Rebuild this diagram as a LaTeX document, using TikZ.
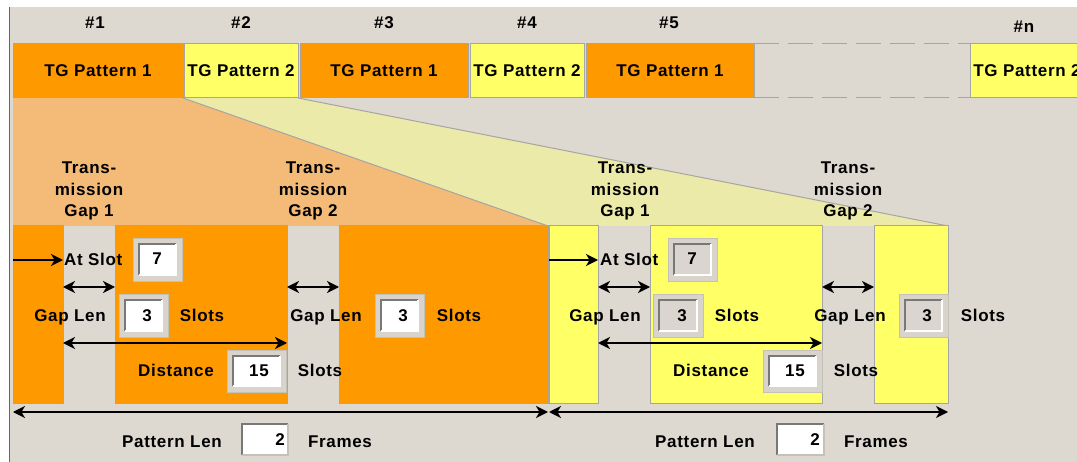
\documentclass[tikz,border=0pt]{standalone}
\usepackage{fontspec}
\setmainfont{Liberation Sans}[LetterSpace=4]
\usetikzlibrary{arrows.meta}
\definecolor{bgc}{RGB}{221,216,208}
\definecolor{org}{RGB}{255,153,0}
\definecolor{yel}{RGB}{255,255,102}
\definecolor{edgec}{RGB}{165,165,165}
\definecolor{ohatch}{RGB}{243,186,120}
\definecolor{yhatch}{RGB}{236,234,168}
\definecolor{framec}{RGB}{216,212,204}
\definecolor{framed}{RGB}{196,192,186}
\definecolor{disc}{RGB}{218,214,207}
\definecolor{sunk}{RGB}{120,120,120}
\newcommand\lbfont{\fontsize{17}{21.5}\selectfont\bfseries}
\pgfdeclarelayer{backlayer}
\pgfsetlayers{backlayer,main}
\tikzset{
  lbl/.style={font=\lbfont, inner sep=0pt, anchor=base},
  blk/.style={draw=edgec, line width=1pt, inner sep=0pt, outer sep=0pt, anchor=north west},
  gapbox/.style={inner sep=0pt, outer sep=0pt, anchor=north west},
  tip/.tip={Stealth[length=12pt,width=12pt,inset=3.5pt]},
  arr/.style={-tip, line width=1.5pt},
  dbl/.style={tip-tip, line width=1.5pt},
  fbox/.style={fill=framec, draw=framed, line width=0.8pt, inner sep=0pt, outer sep=0pt, anchor=north west},
  sunkline/.style={draw=sunk, line width=1.6pt},
  liteline/.style={draw=white, line width=1.6pt},
}
% #1 name, #2 x1, #3 y1, #4 x2, #5 y2, #6 inner fill, #7 text, #8 text east x, #9 baseline
\newcommand\infield[9]{%
  \node[fbox, minimum width={#4-#2}, minimum height={#5-#3}] (#1) at (#2,#3) {};
  \fill[#6] ({#2+6},{#3+6}) rectangle ({#4-6},{#5-6});
  \draw[sunkline] ({#2+6},{#5-6}) -- ({#2+6},{#3+6}) -- ({#4-6},{#3+6});
  \draw[liteline] ({#4-6},{#3+6}) -- ({#4-6},{#5-6}) -- ({#2+6},{#5-6});
  \node[lbl, anchor=base east] (#1t) at (#8,#9) {#7};
}
\newcommand\plainfield[8]{%
  \node[gapbox, fill=white, minimum width={#4-#2}, minimum height={#5-#3}] (#1) at (#2,#3) {};
  \draw[sunkline] (#1.south west) -- (#1.north west) -- (#1.north east);
  \draw[draw=framed, line width=1.6pt] (#1.north east) -- (#1.south east) -- (#1.south west);
  \node[lbl, anchor=base east] (#1t) at (#7,#8) {#6};
}
\begin{document}
\begin{tikzpicture}[x=1pt,y=-1pt]
\useasboundingbox (0,0) rectangle (1077,462);
\clip (0,0) rectangle (1077,462);
\begin{pgfonlayer}{backlayer}
  \fill[white] (0,0) rectangle (1077,462);
  \fill[bgc] (10,7) rectangle (1077,462);
  \draw[gray!80!black, line width=1pt] (9.5,7) -- (9.5,462);
\end{pgfonlayer}

% ---- top pattern strip ----
\node[blk, fill=org, minimum width=170, minimum height=54, font=\lbfont] (P1) at (13,44) {TG Pattern 1};
\node[blk, fill=yel, minimum width=114, minimum height=54, font=\lbfont] (P2) at (184,44) {TG Pattern 2};
\node[blk, fill=org, minimum width=168, minimum height=54, font=\lbfont] (P3) at (300,44) {TG Pattern 1};
\node[blk, fill=yel, minimum width=114, minimum height=54, font=\lbfont] (P4) at (470,44) {TG Pattern 2};
\node[blk, fill=org, minimum width=168, minimum height=54, font=\lbfont] (P5) at (586,44) {TG Pattern 1};
\node[blk, fill=yel, minimum width=114, minimum height=54, font=\lbfont] (Pn) at (970,44) {TG Pattern 2};
\draw[edgec, line width=1pt, dash pattern=on 25pt off 9pt] (P5.north east) -- (Pn.north west);
\draw[edgec, line width=1pt, dash pattern=on 25pt off 9pt] (P5.south east) -- (Pn.south west);

\node[lbl] (h1) at (95,29) {\#1};
\node[lbl] (h2) at (241,29) {\#2};
\node[lbl] (h3) at (384,29) {\#3};
\node[lbl] (h4) at (527,29) {\#4};
\node[lbl] (h5) at (669,29) {\#5};
\node[lbl] (hn) at (1024,33) {\#n};

% ---- lower blocks ----
\node[blk, fill=org, minimum width=50, minimum height=178] (oA) at (13,226) {};
\node[gapbox, minimum width=52, minimum height=178] (gA) at (63,226) {};
\node[blk, fill=org, minimum width=172, minimum height=178] (oB) at (115,226) {};
\node[gapbox, minimum width=52, minimum height=178] (gB) at (287,226) {};
\node[blk, fill=org, minimum width=209, minimum height=178] (oC) at (339,226) {};
\node[blk, fill=yel, minimum width=49, minimum height=178] (yA) at (549,226) {};
\node[gapbox, minimum width=52, minimum height=178] (gC) at (598,226) {};
\node[blk, fill=yel, minimum width=172, minimum height=178] (yB) at (650,226) {};
\node[gapbox, minimum width=52, minimum height=178] (gD) at (822,226) {};
\node[blk, fill=yel, minimum width=74, minimum height=178] (yC) at (874,226) {};

% ---- zoom wedges ----
\begin{pgfonlayer}{backlayer}
  \fill[ohatch] (P1.south west) -- (P1.south east) -- (oC.north east) -- (oA.north west) -- cycle;
  \fill[yhatch] (P2.south west) -- (P2.south east) -- (yC.north east) -- (yA.north west) -- cycle;
  \draw[edgec, line width=1pt] (P1.south east) -- (oC.north east);
  \draw[edgec, line width=1pt] (P2.south east) -- (yC.north east);
\end{pgfonlayer}

% ---- labels ----
\node[lbl, align=center] (tg1) at (89,217) {Trans-\\mission\\Gap 1};
\node[lbl, align=center] (tg2) at (313,217) {Trans-\\mission\\Gap 2};
\node[lbl, align=center] (tg3) at (625,217) {Trans-\\mission\\Gap 1};
\node[lbl, align=center] (tg4) at (848,217) {Trans-\\mission\\Gap 2};

\node[lbl, anchor=base west] (as1) at (64,266) {At Slot};
\node[lbl, anchor=base west] (as2) at (600,266) {At Slot};

\node[lbl] (gl1) at (70,322) {Gap Len};
\node[lbl] (sl1) at (202,322) {Slots};
\node[lbl] (gl2) at (326,322) {Gap Len};
\node[lbl] (sl2) at (459,322) {Slots};
\node[lbl] (di1) at (176,377) {Distance};
\node[lbl] (sl3) at (320,377) {Slots};
\node[lbl] (pl1) at (172,447) {Pattern Len};
\node[lbl] (fr1) at (340,447) {Frames};

\node[lbl] (gl3) at (605,322) {Gap Len};
\node[lbl] (sl4) at (737,322) {Slots};
\node[lbl] (gl4) at (850,322) {Gap Len};
\node[lbl] (sl5) at (983,322) {Slots};
\node[lbl] (di2) at (711,377) {Distance};
\node[lbl] (sl6) at (856,377) {Slots};
\node[lbl] (pl2) at (705,447) {Pattern Len};
\node[lbl] (fr2) at (876,447) {Frames};

% ---- input fields ----
\infield{fa}{133}{238}{182}{281}{white}{7}{162}{265}
\infield{fb}{119}{294}{168}{337}{white}{3}{152}{322}
\infield{fc}{375}{294}{424}{337}{white}{3}{408}{322}
\infield{fd}{227}{350}{286}{392}{white}{15}{269}{377}
\plainfield{fe}{242}{424}{288}{455}{2}{285}{446}
\infield{ga}{668}{238}{717}{281}{disc}{7}{697}{265}
\infield{gb}{653}{294}{703}{337}{disc}{3}{687}{322}
\infield{gc}{899}{294}{948}{337}{disc}{3}{932}{322}
\infield{gd}{763}{350}{822}{392}{white}{15}{805}{377}
\plainfield{ge}{777}{424}{824}{455}{2}{820}{446}

% ---- arrows ----
\coordinate (rAt) at (0,260);
\coordinate (rGap) at (0,287);
\coordinate (rDist) at (0,343);
\coordinate (rPat) at (0,412);
\draw[arr] (oA.west |- rAt) -- (oA.east |- rAt);
\draw[dbl] (gA.west |- rGap) -- (gA.east |- rGap);
\draw[dbl] (gB.west |- rGap) -- (gB.east |- rGap);
\draw[dbl] (gA.west |- rDist) -- (gB.west |- rDist);
\draw[dbl] (oA.west |- rPat) -- (oC.east |- rPat);
\draw[arr] (yA.west |- rAt) -- (yA.east |- rAt);
\draw[dbl] (gC.west |- rGap) -- (gC.east |- rGap);
\draw[dbl] (gD.west |- rGap) -- (gD.east |- rGap);
\draw[dbl] (gC.west |- rDist) -- (gD.west |- rDist);
\draw[dbl] (yA.west |- rPat) -- (yC.east |- rPat);
\end{tikzpicture}
\end{document}
